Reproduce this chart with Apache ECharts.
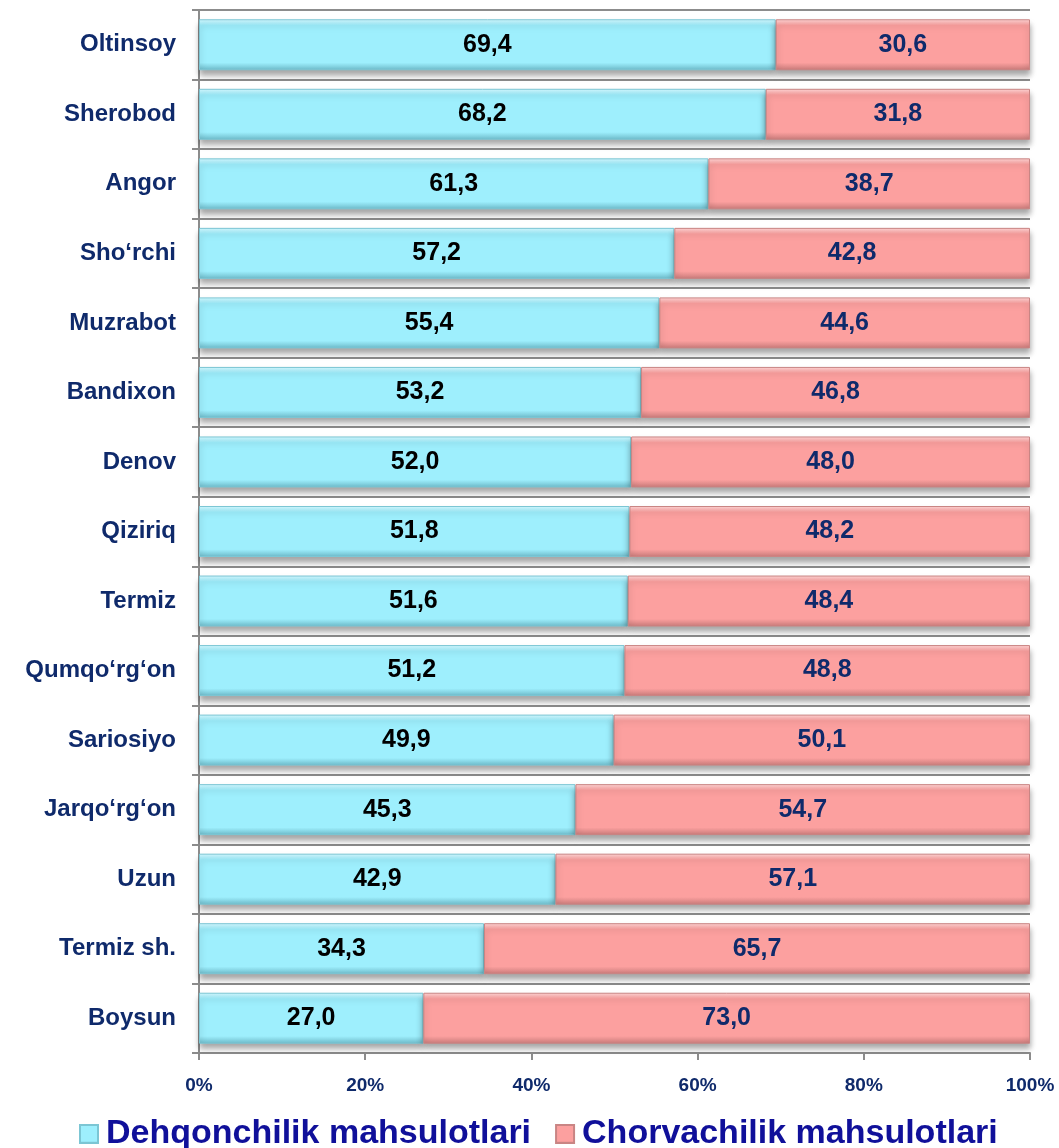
<!DOCTYPE html>
<html><head><meta charset="utf-8">
<script src="https://cdn.jsdelivr.net/npm/echarts@6/dist/echarts.min.js"></script>
<style>html,body{margin:0;padding:0;background:#fff}#c{width:1059px;height:1148px}</style>
</head><body><div id="c"></div>
<script>
const categories = ["Oltinsoy","Sherobod","Angor","Sho‘rchi","Muzrabot","Bandixon","Denov","Qiziriq","Termiz","Qumqo‘rg‘on","Sariosiyo","Jarqo‘rg‘on","Uzun","Termiz sh.","Boysun"];
const dehqon = [69.4,68.2,61.3,57.2,55.4,53.2,52.0,51.8,51.6,51.2,49.9,45.3,42.9,34.3,27.0];
const chorva = [30.6,31.8,38.7,42.8,44.6,46.8,48.0,48.2,48.4,48.8,50.1,54.7,57.1,65.7,73.0];
const seriesNames = ["Dehqonchilik mahsulotlari","Chorvachilik mahsulotlari"];

const font = '"Liberation Sans", Arial, sans-serif';
const fmt = p => p.value.toFixed(1).replace('.', ',');
function grad(top, mid, bot){
  return new echarts.graphic.LinearGradient(0,0,0,1,[
    {offset:0,color:top},{offset:0.12,color:mid},{offset:0.85,color:mid},{offset:1,color:bot}]);
}
const chart = echarts.init(document.getElementById('c'));
chart.setOption({
  animation:false,
  grid:{left:199,right:29,top:10,bottom:95,containLabel:false},
  legend:{
    top:1112,left:74,icon:'rect',itemWidth:18,itemHeight:18,itemGap:24,
    textStyle:{fontFamily:font,fontSize:34,fontWeight:'bold',color:'#10109a',padding:[0,0,0,3]},
    data:seriesNames
  },
  xAxis:{
    type:'value',min:0,max:100,interval:20,
    axisLine:{show:true,lineStyle:{color:'#8c8c8c',width:2}},
    axisTick:{show:true,length:7,lineStyle:{color:'#8c8c8c',width:2}},
    splitLine:{show:false},
    axisLabel:{formatter:'{value}%',fontFamily:font,fontSize:19,fontWeight:'bold',color:'#0f2a6b',margin:23}
  },
  yAxis:{
    type:'category',data:categories,inverse:true,
    axisLine:{show:true,lineStyle:{color:'#8c8c8c',width:2}},
    axisTick:{show:true,length:7,lineStyle:{color:'#8c8c8c',width:2}},
    splitLine:{show:true,lineStyle:{color:'#8c8c8c',width:2}},
    axisLabel:{fontFamily:font,fontSize:24,fontWeight:'bold',color:'#0f2a6b',margin:23}
  },
  series:[
    {name:seriesNames[0],type:'bar',stack:'s',data:dehqon,barWidth:51,
     itemStyle:{color:grad('#d4f8ff','#9eeffd','#6cb9c8'),borderColor:'#7cc6d4',borderWidth:1,
       shadowColor:'rgba(0,0,0,0.35)',shadowBlur:6,shadowOffsetY:5},
     label:{show:true,position:'inside',formatter:fmt,fontFamily:font,fontSize:25,fontWeight:'bold',color:'#000'}},
    {name:seriesNames[1],type:'bar',stack:'s',data:chorva,barWidth:51,
     itemStyle:{color:grad('#ffd6d6','#fca09f','#c77a79'),borderColor:'#c98584',borderWidth:1,
       shadowColor:'rgba(0,0,0,0.35)',shadowBlur:6,shadowOffsetY:5},
     label:{show:true,position:'inside',formatter:fmt,fontFamily:font,fontSize:25,fontWeight:'bold',color:'#0f2a6b'}}
  ]
});
</script></body></html>
